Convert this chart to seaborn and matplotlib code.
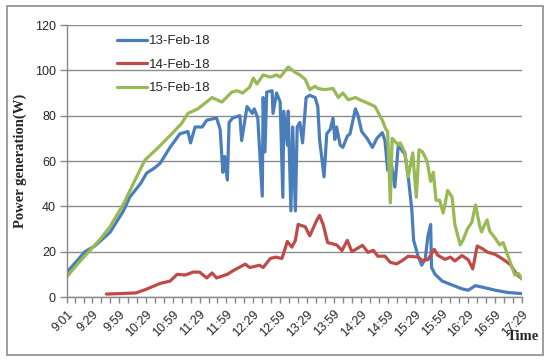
import matplotlib
matplotlib.use("Agg")
import matplotlib.pyplot as plt
from matplotlib.patches import Rectangle
import seaborn as sns
import pandas as pd
import numpy as np

# 13-Feb-18 (blue)
t13 = ["9:01", "9:10", "9:21", "9:32", "9:49", "10:04", "10:11", "10:23", "10:30", "10:39",
       "10:45", "10:56", "11:07", "11:16", "11:19", "11:24", "11:32", "11:37", "11:48", "11:52",
       "11:55", "11:57", "12:00", "12:02", "12:06", "12:14", "12:16", "12:22", "12:28", "12:30",
       "12:34", "12:39", "12:40", "12:42", "12:44", "12:50", "12:51", "12:55", "12:59", "13:02",
       "13:03", "13:07", "13:08", "13:11", "13:13", "13:16", "13:18", "13:21", "13:24", "13:28",
       "13:32", "13:38", "13:41", "13:43", "13:48", "13:51", "13:55", "13:58", "14:00", "14:02",
       "14:06", "14:09", "14:14", "14:17", "14:23", "14:26", "14:30", "14:36", "14:42", "14:47",
       "14:53", "14:56", "14:59", "15:02", "15:07", "15:11", "15:16", "15:18", "15:22", "15:26",
       "15:28", "15:33", "15:37", "15:41", "15:44", "15:47", "15:48", "15:52", "16:00", "16:11",
       "16:22", "16:29", "16:37", "16:44", "16:59", "17:13", "17:29"]
p13 = [11, 15, 20, 22.5, 28.5, 38, 44, 50, 54.7, 57,
       59, 66, 72, 73, 68, 75, 75, 78, 79, 74,
       55, 62, 51.6, 77, 79, 80, 69, 84, 81, 83,
       79, 44.5, 88, 64, 90.4, 91, 81, 90, 86, 44,
       82, 67, 82, 38, 75, 38, 75, 77, 68, 88,
       89, 88, 84, 69.5, 53, 72, 74, 79, 69.5, 75,
       67, 66, 71, 72, 83, 80, 73, 70, 66, 70,
       72.5, 69, 56, 62, 48.5, 67.5, 64, 64, 53, 38.4,
       25, 18, 14, 17, 27, 32, 13, 10, 7, 5.3,
       3.6, 3, 5, 4.4, 3, 2, 1.5]

# 14-Feb-18 (red)
t14 = ["9:45", "10:00", "10:18", "10:30", "10:45", "10:56", "11:04", "11:13", "11:22", "11:29",
       "11:37", "11:43", "11:48", "12:00", "12:06", "12:20", "12:25", "12:36", "12:40", "12:48",
       "12:54", "13:01", "13:07", "13:12", "13:16", "13:19", "13:27", "13:32", "13:40", "13:43",
       "13:47", "13:52", "14:02", "14:08", "14:14", "14:19", "14:31", "14:37", "14:43", "14:48",
       "14:56", "15:02", "15:09", "15:15", "15:22", "15:33", "15:38", "15:44", "15:51", "15:55",
       "16:03", "16:09", "16:14", "16:22", "16:29", "16:34", "16:39", "16:44", "16:51", "16:59",
       "17:08", "17:16", "17:23", "17:29"]
p14 = [1.3, 1.5, 1.8, 3.5, 6, 7, 10, 9.7, 11, 11,
       8.4, 10.6, 8.4, 10, 11.5, 14.5, 13, 14, 13, 17,
       17.6, 17, 24.5, 22, 25, 32, 31, 27, 34, 36,
       32, 24, 23, 20.5, 25, 20, 22.8, 19.7, 20.6, 18,
       18, 15.3, 14.6, 16, 18, 17.6, 16, 16.5, 21, 18.4,
       16.6, 17.6, 15.9, 18.3, 16.4, 12.4, 22.5, 21.5, 19.7, 18.8,
       16.6, 14.3, 10, 8]

# 15-Feb-18 (green)
t15 = ["9:01", "9:16", "9:27", "9:38", "9:49", "10:04", "10:15", "10:28", "10:43", "10:58",
       "11:09", "11:16", "11:27", "11:43", "11:54", "12:05", "12:11", "12:17", "12:25", "12:29",
       "12:33", "12:40", "12:48", "12:55", "12:59", "13:08", "13:16", "13:21", "13:27", "13:32",
       "13:38", "13:41", "13:49", "13:58", "14:04", "14:09", "14:15", "14:23", "14:28", "14:37",
       "14:45", "14:53", "14:57", "14:59", "15:02", "15:04", "15:11", "15:13", "15:18", "15:22",
       "15:27", "15:31", "15:34", "15:38", "15:43", "15:47", "15:50", "15:53", "15:57", "16:01",
       "16:06", "16:11", "16:14", "16:20", "16:23", "16:28", "16:33", "16:37", "16:42", "16:44",
       "16:47", "16:50", "16:53", "16:59", "17:04", "17:08", "17:13", "17:18", "17:21", "17:25",
       "17:29"]
p15 = [9, 16, 20.7, 25.5, 31, 41, 50, 60.4, 66, 72,
       76.6, 81, 83, 88, 86, 90.4, 91, 90, 92.6, 96.6,
       94, 98, 97, 98, 97, 101.5, 99, 98, 96, 91.5,
       93, 92, 91.5, 92, 88, 90, 87, 88, 87, 85.5,
       84, 78, 74, 73, 41.5, 70, 67, 68, 64, 53,
       63.6, 44, 65, 64, 60, 51, 55, 42.7, 42.7, 37,
       47, 44, 32, 23, 25, 30, 33, 40.6, 31, 28.7,
       31.7, 34, 29, 26, 23, 24, 18.5, 13, 9.7, 10.4,
       8]

tick_labels = ["9:01", "9:29", "9:59", "10:29", "10:59", "11:29", "11:59", "12:29", "12:59",
               "13:29", "13:59", "14:29", "14:59", "15:29", "15:59", "16:29", "16:59", "17:29"]


def to_min(t):
    h, m = t.split(":")
    return int(h) * 60 + int(m) - (9 * 60 + 1)


series = [("13-Feb-18", t13, p13), ("14-Feb-18", t14, p14), ("15-Feb-18", t15, p15)]
df = pd.concat([pd.DataFrame({"minute": [to_min(t) for t in ts], "power": ps, "day": name})
                for name, ts, ps in series], ignore_index=True)

sns.set_style("white")
plt.rcParams["font.family"] = ["Liberation Sans", "DejaVu Sans"]

fig = plt.figure(figsize=(5.5, 3.62), dpi=100)
ax = fig.add_axes([67 / 550, 65 / 362, 455 / 550, 272 / 362])

palette = {"13-Feb-18": "#4A7EBB", "14-Feb-18": "#BE4B48", "15-Feb-18": "#98B954"}
sns.lineplot(data=df, x="minute", y="power", hue="day", palette=palette,
             estimator=None, sort=True, linewidth=2.3, ax=ax)

ax.set_xlim(0, 508)
ax.set_ylim(0, 120)
ax.set_yticks(np.arange(0, 121, 20))
ax.tick_params(axis="y", labelsize=9, length=5, width=1, color="#888888", pad=3, left=True)
ax.yaxis.grid(True, color="#8c8c8c", linewidth=1)
ax.xaxis.grid(False)

major = [to_min(t) for t in tick_labels]
minor = []
for a, b in zip(major[:-1], major[1:]):
    minor += [a + (b - a) / 3, a + 2 * (b - a) / 3]
ax.set_xticks(major)
ax.set_xticklabels(tick_labels, rotation=45, ha="right", va="top", rotation_mode="anchor")
ax.set_xticks(minor, minor=True)
ax.tick_params(axis="x", which="both", bottom=True, length=4, width=1, color="#888888",
               labelsize=9, pad=4)

for s in ["top", "right"]:
    ax.spines[s].set_visible(False)
for s in ["left", "bottom"]:
    ax.spines[s].set_color("#888888")
    ax.spines[s].set_linewidth(1)

ax.set_xlabel("")
ax.set_ylabel("Power generation(W)", family="Liberation Serif", fontweight="bold",
              fontsize=10.5, labelpad=6)
fig.text(523 / 550, 1 - 337 / 362, "Time", family="Liberation Serif", fontweight="bold",
         fontsize=10.5, ha="center", va="center")

leg = ax.legend(loc="upper left", bbox_to_anchor=(117 / 550, 1 - 35 / 362),
                bbox_transform=fig.transFigure, frameon=False, fontsize=9.5,
                handlelength=2.3, handletextpad=0.1, labelspacing=0.85, borderpad=0,
                borderaxespad=0)
for line in leg.get_lines():
    line.set_linewidth(2.3)

fig.add_artist(Rectangle((7 / 550, 7 / 362), 536 / 550, 349 / 362, transform=fig.transFigure,
                         fill=False, edgecolor="#8c8c8c", linewidth=1.2))

fig.savefig("out.png", dpi=100)
